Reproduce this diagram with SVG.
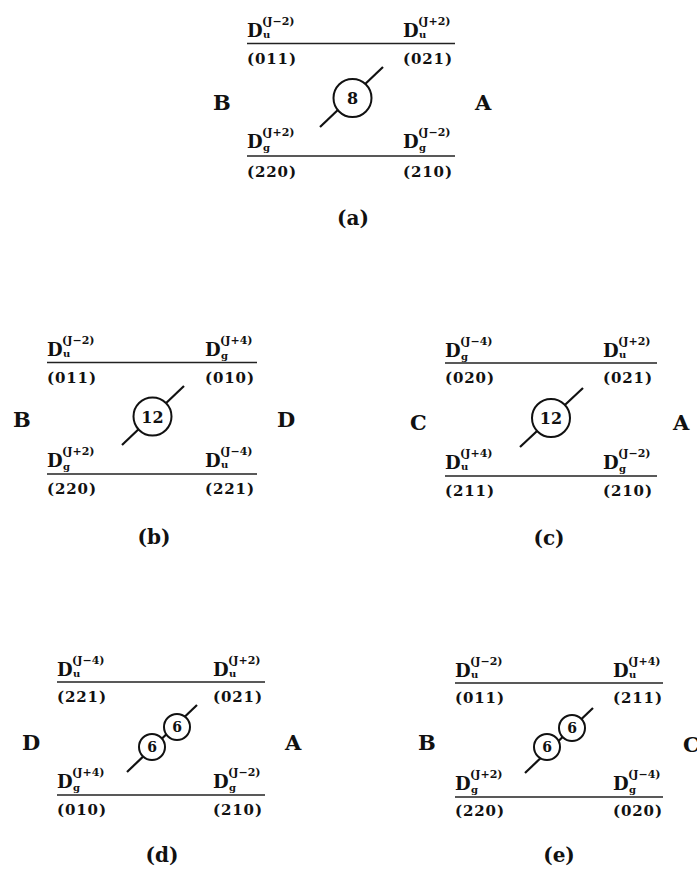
<svg xmlns="http://www.w3.org/2000/svg" width="697" height="870" viewBox="0 0 697 870">
<style>
text{font-family:"DejaVu Serif","Liberation Serif",serif;font-weight:bold;fill:#111}
.D{font-size:18px}
.sb{font-size:10px}
.sp{font-size:11px}
.pr{font-size:15px}
.lb{font-size:21px}
.cap{font-size:20px;text-anchor:middle}
.n{font-size:16px;text-anchor:middle}
.n6{font-size:14px;text-anchor:middle}
.ln{stroke:#222;stroke-width:1.4;fill:none}
.dg{stroke:#111;stroke-width:2.2;fill:none}
.cr{stroke:#111;stroke-width:2;fill:#fff}
</style>

<g id="connectors">
<line class="ln" x1="247" y1="43.5" x2="455" y2="43.5"/>
<line class="ln" x1="247" y1="156" x2="455" y2="156"/>
<line class="ln" x1="47" y1="362.5" x2="257" y2="362.5"/>
<line class="ln" x1="47" y1="474" x2="257" y2="474"/>
<line class="ln" x1="445" y1="363" x2="657" y2="363"/>
<line class="ln" x1="445" y1="476" x2="657" y2="476"/>
<line class="ln" x1="57" y1="682" x2="265" y2="682"/>
<line class="ln" x1="57" y1="795" x2="265" y2="795"/>
<line class="ln" x1="455" y1="683" x2="663" y2="683"/>
<line class="ln" x1="455" y1="797" x2="663" y2="797"/>
<line class="dg" x1="320" y1="127" x2="383" y2="67"/>
<line class="dg" x1="122" y1="445" x2="184" y2="386"/>
<line class="dg" x1="520" y1="447" x2="583" y2="388"/>
<line class="dg" x1="127" y1="772" x2="197" y2="705"/>
<line class="dg" x1="525" y1="773" x2="593" y2="708"/>
</g>

<!-- Panel a -->
<g id="panel-a">
<g id="a-tl"><text class="D" x="247" y="37">D</text><text class="sb" x="263" y="38">u</text><text class="sp" x="262" y="25">(J−2)</text><text class="pr" x="247" y="63.5" textLength="49" lengthAdjust="spacing">(011)</text></g>
<g id="a-tr"><text class="D" x="403" y="37">D</text><text class="sb" x="419" y="38">u</text><text class="sp" x="418" y="25">(J+2)</text><text class="pr" x="403" y="63.5" textLength="49" lengthAdjust="spacing">(021)</text></g>
<g id="a-bl"><text class="D" x="247" y="148">D</text><text class="sb" x="263" y="151">g</text><text class="sp" x="262" y="136">(J+2)</text><text class="pr" x="247" y="176.5" textLength="49" lengthAdjust="spacing">(220)</text></g>
<g id="a-br"><text class="D" x="403" y="148">D</text><text class="sb" x="419" y="151">g</text><text class="sp" x="418" y="136">(J−2)</text><text class="pr" x="403" y="176.5" textLength="49" lengthAdjust="spacing">(210)</text></g>
<g id="a-B"><text class="lb" x="213" y="110">B</text></g>
<g id="a-A"><text class="lb" x="475" y="110">A</text></g>
<g id="a-c"><circle class="cr" cx="352.5" cy="98" r="19"/><text class="n" x="352.5" y="104">8</text></g>
<g id="a-cap"><text class="cap" x="353" y="225">(a)</text></g>
</g>

<!-- Panel b -->
<g id="panel-b">
<g id="b-tl"><text class="D" x="47" y="356">D</text><text class="sb" x="63" y="357">u</text><text class="sp" x="62" y="344">(J−2)</text><text class="pr" x="47" y="382.5" textLength="49" lengthAdjust="spacing">(011)</text></g>
<g id="b-tr"><text class="D" x="205" y="356">D</text><text class="sb" x="221" y="359">g</text><text class="sp" x="220" y="344">(J+4)</text><text class="pr" x="205" y="382.5" textLength="49" lengthAdjust="spacing">(010)</text></g>
<g id="b-bl"><text class="D" x="47" y="466.5">D</text><text class="sb" x="63" y="469.5">g</text><text class="sp" x="62" y="454.5">(J+2)</text><text class="pr" x="47" y="493.5" textLength="49" lengthAdjust="spacing">(220)</text></g>
<g id="b-br"><text class="D" x="205" y="466.5">D</text><text class="sb" x="221" y="467.5">u</text><text class="sp" x="220" y="454.5">(J−4)</text><text class="pr" x="205" y="493.5" textLength="49" lengthAdjust="spacing">(221)</text></g>
<g id="b-B"><text class="lb" x="13" y="427">B</text></g>
<g id="b-D"><text class="lb" x="277" y="427">D</text></g>
<g id="b-c"><circle class="cr" cx="152.5" cy="416.5" r="19"/><text class="n" x="152.5" y="422.5">12</text></g>
<g id="b-cap"><text class="cap" x="154" y="544">(b)</text></g>
</g>

<!-- Panel c -->
<g id="panel-c">
<g id="c-tl"><text class="D" x="445" y="356.5">D</text><text class="sb" x="461" y="359.5">g</text><text class="sp" x="460" y="344.5">(J−4)</text><text class="pr" x="445" y="383" textLength="49" lengthAdjust="spacing">(020)</text></g>
<g id="c-tr"><text class="D" x="603" y="356.5">D</text><text class="sb" x="619" y="357.5">u</text><text class="sp" x="618" y="344.5">(J+2)</text><text class="pr" x="603" y="383" textLength="49" lengthAdjust="spacing">(021)</text></g>
<g id="c-bl"><text class="D" x="445" y="468.5">D</text><text class="sb" x="461" y="469.5">u</text><text class="sp" x="460" y="456.5">(J+4)</text><text class="pr" x="445" y="495.5" textLength="49" lengthAdjust="spacing">(211)</text></g>
<g id="c-br"><text class="D" x="603" y="468.5">D</text><text class="sb" x="619" y="471.5">g</text><text class="sp" x="618" y="456.5">(J−2)</text><text class="pr" x="603" y="495.5" textLength="49" lengthAdjust="spacing">(210)</text></g>
<g id="c-C"><text class="lb" x="410" y="430">C</text></g>
<g id="c-A"><text class="lb" x="673" y="430">A</text></g>
<g id="c-c"><circle class="cr" cx="551" cy="418" r="19"/><text class="n" x="551" y="424">12</text></g>
<g id="c-cap"><text class="cap" x="549" y="545">(c)</text></g>
</g>

<!-- Panel d -->
<g id="panel-d">
<g id="d-tl"><text class="D" x="57" y="675.5">D</text><text class="sb" x="73" y="676.5">u</text><text class="sp" x="72" y="663.5">(J−4)</text><text class="pr" x="57" y="701.5" textLength="49" lengthAdjust="spacing">(221)</text></g>
<g id="d-tr"><text class="D" x="213" y="675.5">D</text><text class="sb" x="229" y="676.5">u</text><text class="sp" x="228" y="663.5">(J+2)</text><text class="pr" x="213" y="701.5" textLength="49" lengthAdjust="spacing">(021)</text></g>
<g id="d-bl"><text class="D" x="57" y="787.5">D</text><text class="sb" x="73" y="790.5">g</text><text class="sp" x="72" y="775.5">(J+4)</text><text class="pr" x="57" y="814.5" textLength="49" lengthAdjust="spacing">(010)</text></g>
<g id="d-br"><text class="D" x="213" y="787.5">D</text><text class="sb" x="229" y="790.5">g</text><text class="sp" x="228" y="775.5">(J−2)</text><text class="pr" x="213" y="814.5" textLength="49" lengthAdjust="spacing">(210)</text></g>
<g id="d-D"><text class="lb" x="22" y="750">D</text></g>
<g id="d-A"><text class="lb" x="285" y="750">A</text></g>
<g id="d-c1"><circle class="cr" cx="152" cy="747" r="13"/><text class="n6" x="152" y="752">6</text></g>
<g id="d-c2"><circle class="cr" cx="177" cy="727" r="13"/><text class="n6" x="177" y="732">6</text></g>
<g id="d-cap"><text class="cap" x="162" y="862">(d)</text></g>
</g>

<!-- Panel e -->
<g id="panel-e">
<g id="e-tl"><text class="D" x="455" y="676.5">D</text><text class="sb" x="471" y="677.5">u</text><text class="sp" x="470" y="664.5">(J−2)</text><text class="pr" x="455" y="702.5" textLength="49" lengthAdjust="spacing">(011)</text></g>
<g id="e-tr"><text class="D" x="613" y="676.5">D</text><text class="sb" x="629" y="677.5">u</text><text class="sp" x="628" y="664.5">(J+4)</text><text class="pr" x="613" y="702.5" textLength="49" lengthAdjust="spacing">(211)</text></g>
<g id="e-bl"><text class="D" x="455" y="789.5">D</text><text class="sb" x="471" y="792.5">g</text><text class="sp" x="470" y="777.5">(J+2)</text><text class="pr" x="455" y="815.5" textLength="49" lengthAdjust="spacing">(220)</text></g>
<g id="e-br"><text class="D" x="613" y="789.5">D</text><text class="sb" x="629" y="792.5">g</text><text class="sp" x="628" y="777.5">(J−4)</text><text class="pr" x="613" y="815.5" textLength="49" lengthAdjust="spacing">(020)</text></g>
<g id="e-B"><text class="lb" x="418" y="750">B</text></g>
<g id="e-C"><text class="lb" x="683" y="752">C</text></g>
<g id="e-c1"><circle class="cr" cx="547" cy="747" r="13"/><text class="n6" x="547" y="752">6</text></g>
<g id="e-c2"><circle class="cr" cx="572" cy="728" r="13"/><text class="n6" x="572" y="733">6</text></g>
<g id="e-cap"><text class="cap" x="559" y="862">(e)</text></g>
</g>
</svg>
